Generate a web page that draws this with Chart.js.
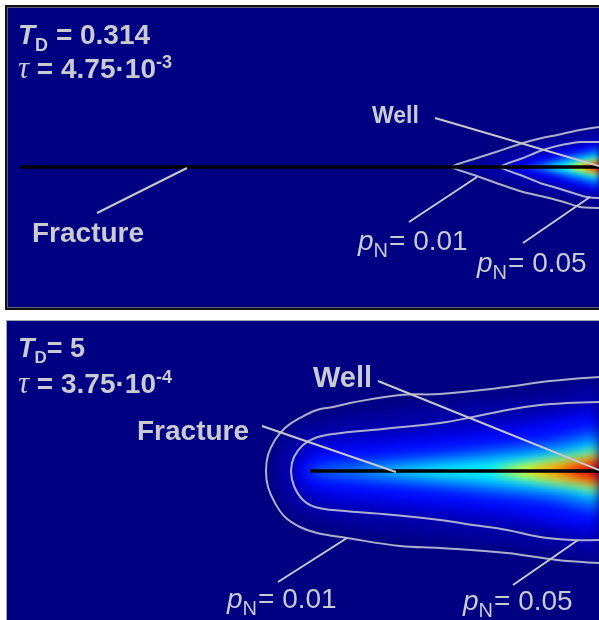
<!DOCTYPE html>
<html>
<head>
<meta charset="utf-8">
<script src="https://cdn.jsdelivr.net/npm/chart.js@4.4.1/dist/chart.umd.min.js"></script>
<style>
  html, body { margin: 0; padding: 0; background: #fff; width: 599px; height: 620px; overflow: hidden; }
  body { position: relative; }
  #topPanel { position: absolute; left: 5px; top: 5px; border: 2px solid #131313; border-right: none; }
  #topPlot { position: relative; width: 591px; height: 299px; border: 1px solid #5e5e70; border-right: none; background: rgb(0,0,130); overflow: hidden; }
  #botPanel { position: absolute; left: 6px; top: 320px; border-top: 1px solid #a4a4ac; border-left: 1px solid #a4a4ac; }
  #botPlot { position: relative; width: 592px; height: 299px; background: rgb(0,0,130); overflow: hidden; }
  canvas { position: absolute; left: 0; top: 0; }
</style>
</head>
<body>
<div id="topPanel"><div id="topPlot">
  <canvas id="topField" width="591" height="299" style="filter: blur(3px)"></canvas>
  <canvas id="topOver" width="591" height="299"></canvas>
</div></div>
<div id="botPanel"><div id="botPlot">
  <canvas id="botField" width="592" height="299" style="filter: blur(6px)"></canvas>
  <canvas id="botOver" width="592" height="299"></canvas>
</div></div>

<script>
// Coordinates: x along the fracture, y across it; the well sits at (0, 0).

// ---- upper panel: T_D = 0.314 ----
const topFracture = [[-579, 0], [0, 0]];
const topContour001Upper = [[-148, 0], [-125, 8], [-100, 16], [-76, 24], [-57, 29], [-42, 32], [-19, 37], [0, 40], [25, 42]];
const topContour001Lower = [[-148, 0], [-125, -8], [-100, -17], [-76, -25], [-50, -31], [-32, -36], [-19, -40], [0, -41], [25, -42]];
const topContour005Upper = [[-99, 0], [-76, 9], [-59, 16], [-42, 21], [-19, 25], [0, 25], [25, 26]];
const topContour005Lower = [[-99, 0], [-76, -9], [-59, -16], [-42, -21], [-26, -26], [-12, -30], [0, -31], [25, -31]];
// half-widths of the pressure bands (p_N levels, low to high)
const topBandHalo   = [[-140, 0], [-100, 13], [-60, 25], [-20, 33], [12, 36]];
const topBandBlue   = [[-100, 0], [-70, 9], [-40, 17], [-10, 24], [12, 27]];
const topBandLight  = [[-74, 0], [-45, 7], [-20, 14], [12, 19]];
const topBandCyan   = [[-56, 0], [-25, 7], [0, 12], [12, 13]];
const topBandYellow = [[-34, 0], [-10, 6], [12, 9]];
const topBandRed    = [[-18, 0], [0, 5], [12, 6]];
const topLeaders = {
  fracture: [[-502, -46], [-412, -1]],
  well:     [[-164, 49], [0, 1]],
  p001:     [[-190, -55], [-122, -10]],
  p005:     [[-76, -76], [-9, -30]]
};

// ---- lower panel: T_D = 5 ----
const botFracture = [[-289, 0], [0, 0]];
const botContour001Upper = [[-333, 0], [-331, 16], [-324, 31], [-314, 43], [-299, 53], [-282, 61], [-266, 64], [-249, 68], [-199, 76], [-159, 77], [-92, 84], [-49, 90], [0, 94], [25, 95]];
const botContour001Lower = [[-333, 0], [-331, -16], [-324, -32], [-314, -46], [-299, -56], [-282, -62], [-252, -67], [-199, -75], [-159, -77], [-92, -82], [-42, -89], [0, -92], [25, -93]];
const botContour005Upper = [[-308, 0], [-305, 14], [-296, 26], [-284, 33], [-266, 37], [-216, 42], [-159, 48], [-126, 54], [-92, 61], [-59, 66], [-32, 68], [0, 69], [25, 69]];
const botContour005Lower = [[-308, 0], [-305, -15], [-296, -29], [-284, -36], [-266, -39], [-216, -43], [-159, -49], [-126, -54], [-92, -59], [-59, -66], [-26, -69], [0, -69], [25, -69]];
const botBandHalo   = [[-326, 0], [-316, 30], [-290, 48], [-240, 58], [-150, 68], [-60, 78], [12, 82]];
const botBandMid    = [[-310, 0], [-302, 20], [-284, 32], [-250, 38], [-150, 48], [-60, 58], [12, 64]];
const botBandBlue   = [[-300, 0], [-292, 14], [-270, 22], [-200, 30], [-100, 40], [12, 50]];
const botBandLight  = [[-292, 0], [-275, 6], [-230, 11], [-150, 19], [-60, 29], [12, 37]];
const botBandCyan   = [[-245, 0], [-185, 5], [-100, 13], [-40, 20], [12, 26]];
const botBandYellow = [[-110, 0], [-60, 9], [-20, 15], [12, 19]];
const botBandOrange = [[-70, 0], [-30, 9], [12, 13]];
const botBandRed    = [[-40, 0], [-10, 7], [12, 10]];
const botLeaders = {
  fracture: [[-337, 45], [-203, -1]],
  well:     [[-221, 90], [0, 1]],
  p001:     [[-321, -111], [-252, -67]],
  p005:     [[-86, -114], [-21, -69]]
};

const INK = 'rgb(202,202,208)';
const SANS = '"Liberation Sans", Arial, Helvetica, sans-serif';
const SERIF = '"Liberation Serif", "Times New Roman", serif';

const pts = arr => arr.map(([x, y]) => ({ x, y }));
// each band gets an explicit draw order so that higher levels sit on top
const band = (profile, color, level) => ({
  data: pts(profile.concat(profile.slice().reverse().map(([x, h]) => [x, -h]))),
  backgroundColor: color, borderWidth: 0, fill: 'shape', tension: 0.35, pointRadius: 0,
  order: 100 - level
});
const contour = (upper, lower, tension) => ({
  data: pts(upper.slice().reverse().concat(lower.slice(1))),
  borderColor: 'rgba(205,205,215,0.85)', borderWidth: 2, fill: false, tension, pointRadius: 0, order: 3
});
const segment = (arr, color, width, order) => ({
  data: pts(arr), borderColor: color, borderWidth: width, fill: false, tension: 0, pointRadius: 0, order
});

function baseOptions(xr, yr) {
  return {
    responsive: false, animation: false, events: [],
    layout: { padding: 0 },
    plugins: { legend: { display: false }, tooltip: { enabled: false } },
    scales: {
      x: { type: 'linear', display: false, min: xr[0], max: xr[1] },
      y: { type: 'linear', display: false, min: yr[0], max: yr[1] }
    }
  };
}

// Rich text: runs may be italic, subscript, superscript or serif
function drawRich(ctx, x, y, runs, size, weight) {
  let cx = x;
  ctx.fillStyle = INK;
  ctx.textBaseline = 'alphabetic';
  ctx.textAlign = 'left';
  for (const r of runs) {
    const small = r.sub || r.sup;
    const fs = small ? Math.round(size * (r.scale || 0.64)) : Math.round(size * (r.scale || 1));
    const fam = r.serif ? SERIF : SANS;
    const w = r.serif ? 'normal' : weight;
    ctx.font = (r.italic ? 'italic ' : '') + w + ' ' + fs + 'px ' + fam;
    const dy = r.sub ? size * 0.24 : (r.sup ? -size * 0.36 : 0);
    ctx.fillText(r.t, cx, y + dy);
    cx += ctx.measureText(r.t).width + (r.after || 0);
  }
}

function notesPlugin(notes) {
  return {
    id: 'notes',
    afterDatasetsDraw(chart) {
      const { ctx, scales } = chart;
      ctx.save();
      for (const n of notes) {
        drawRich(ctx, scales.x.getPixelForValue(n.at[0]), scales.y.getPixelForValue(n.at[1]), n.runs, n.size, n.weight);
      }
      ctx.restore();
    }
  };
}

function buildPanel(fieldId, overId, xr, yr, bands, contours, fracture, leaders, notes) {
  new Chart(document.getElementById(fieldId), {
    type: 'line',
    data: { datasets: bands },
    options: baseOptions(xr, yr)
  });
  const leaderColor = 'rgb(200,200,206)';
  new Chart(document.getElementById(overId), {
    type: 'line',
    data: {
      datasets: [
        segment(fracture, '#000', 3.5, 1),
        ...contours,
        segment(leaders.fracture, leaderColor, 2, 0),
        segment(leaders.well, leaderColor, 2, 0),
        segment(leaders.p001, leaderColor, 2, 0),
        segment(leaders.p005, leaderColor, 2, 0)
      ]
    },
    options: baseOptions(xr, yr),
    plugins: [notesPlugin(notes)]
  });
}

const pLabel = v => [{ t: 'p', italic: true }, { t: 'N', sub: true, scale: 0.7, after: 1 }, { t: '= ' + v }];

buildPanel('topField', 'topOver', [-591, 0], [-140, 159],
  [
    band(topBandHalo, 'rgb(0,0,165)', 0),
    band(topBandBlue, 'rgb(0,0,240)', 1),
    band(topBandLight, 'rgb(0,110,255)', 2),
    band(topBandCyan, 'rgb(0,250,255)', 3),
    band(topBandYellow, 'rgb(255,245,0)', 4),
    band(topBandRed, 'rgb(250,30,0)', 5)
  ],
  [
    contour(topContour001Upper, topContour001Lower, 0.15),
    contour(topContour005Upper, topContour005Lower, 0.15)
  ],
  topFracture, topLeaders,
  [
    { at: [-581, 123], size: 28, weight: 'bold', runs: [{ t: 'T', italic: true }, { t: 'D', sub: true }, { t: ' = 0.314' }] },
    { at: [-581, 89], size: 28, weight: 'bold', runs: [{ t: 'τ', italic: true, serif: true, scale: 1.1 }, { t: ' = 4.75·10' }, { t: '-3', sup: true }] },
    { at: [-567, -75], size: 28, weight: 'bold', runs: [{ t: 'Fracture' }] },
    { at: [-227, 44], size: 23, weight: 'bold', runs: [{ t: 'Well' }] },
    { at: [-241, -83], size: 28, weight: 'normal', runs: pLabel('0.01') },
    { at: [-122, -105], size: 28, weight: 'normal', runs: pLabel('0.05') }
  ]
);

buildPanel('botField', 'botOver', [-592, 0], [-149, 150],
  [
    band(botBandHalo, 'rgb(0,0,160)', 0),
    band(botBandMid, 'rgb(0,0,205)', 1),
    band(botBandBlue, 'rgb(0,10,255)', 2),
    band(botBandLight, 'rgb(0,105,255)', 3),
    band(botBandCyan, 'rgb(0,240,255)', 4),
    band(botBandYellow, 'rgb(255,250,0)', 5),
    band(botBandOrange, 'rgb(255,130,0)', 6),
    band(botBandRed, 'rgb(225,0,0)', 7)
  ],
  [
    contour(botContour001Upper, botContour001Lower, 0.4),
    contour(botContour005Upper, botContour005Lower, 0.4)
  ],
  botFracture, botLeaders,
  [
    { at: [-581, 114], size: 27, weight: 'bold', runs: [{ t: 'T', italic: true }, { t: 'D', sub: true }, { t: '= 5' }] },
    { at: [-581, 78], size: 28, weight: 'bold', runs: [{ t: 'τ', italic: true, serif: true, scale: 1.1 }, { t: ' = 3.75·10' }, { t: '-4', sup: true }] },
    { at: [-462, 31], size: 28, weight: 'bold', runs: [{ t: 'Fracture' }] },
    { at: [-286, 84], size: 29, weight: 'bold', runs: [{ t: 'Well' }] },
    { at: [-372, -137], size: 28, weight: 'normal', runs: pLabel('0.01') },
    { at: [-136, -139], size: 28, weight: 'normal', runs: pLabel('0.05') }
  ]
);
</script>
</body>
</html>
